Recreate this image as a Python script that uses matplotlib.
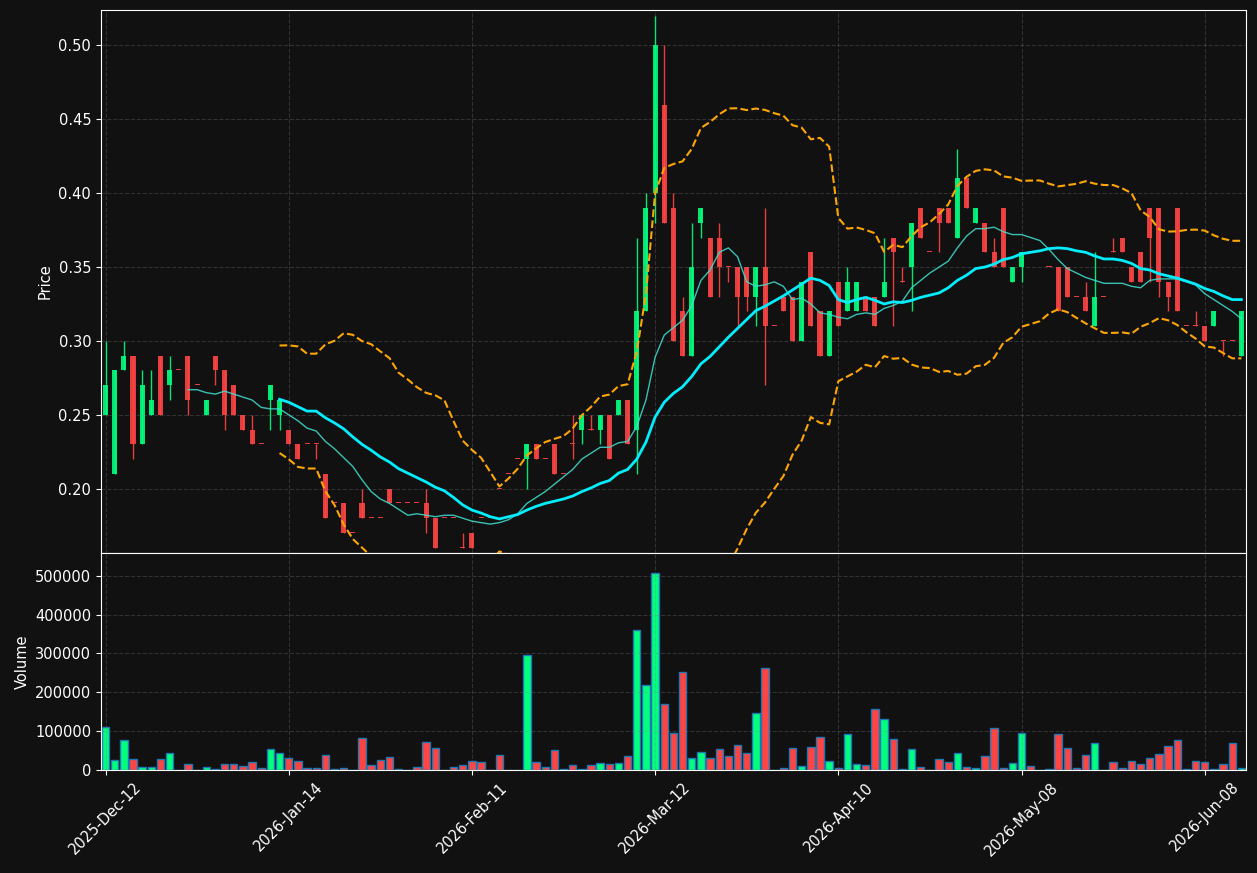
import numpy as np
import pandas as pd
import matplotlib
matplotlib.use("Agg")
import matplotlib.pyplot as plt

# OHLC + volume, one value per bar
opens = [0.25, 0.21, 0.28, 0.29, 0.23, 0.25, 0.29, 0.27, 0.28, 0.29,
         0.27, 0.25, 0.29, 0.28, 0.27, 0.25, 0.24, 0.23, 0.26, 0.25,
         0.24, 0.23, 0.23, 0.23, 0.21, 0.19, 0.19, 0.17, 0.19, 0.18,
         0.18, 0.20, 0.19, 0.19, 0.19, 0.19, 0.18, 0.18, 0.18, 0.16,
         0.17, 0.18, 0.18, 0.20, 0.21, 0.22, 0.22, 0.23, 0.22, 0.23,
         0.21, 0.23, 0.24, 0.24, 0.24, 0.25, 0.25, 0.26, 0.24, 0.32,
         0.40, 0.46, 0.39, 0.32, 0.29, 0.38, 0.37, 0.37, 0.35, 0.35,
         0.35, 0.33, 0.35, 0.31, 0.33, 0.33, 0.30, 0.36, 0.32, 0.29,
         0.34, 0.32, 0.32, 0.33, 0.33, 0.33, 0.37, 0.34, 0.35, 0.39,
         0.36, 0.39, 0.39, 0.37, 0.41, 0.38, 0.38, 0.36, 0.39, 0.34,
         0.35, 0.36, 0.36, 0.35, 0.35, 0.35, 0.33, 0.33, 0.31, 0.33,
         0.36, 0.37, 0.35, 0.36, 0.39, 0.39, 0.34, 0.39, 0.31, 0.31,
         0.31, 0.31, 0.30, 0.30, 0.29]
highs = [0.30, 0.28, 0.30, 0.29, 0.28, 0.28, 0.29, 0.29, 0.28, 0.29,
         0.27, 0.26, 0.29, 0.28, 0.27, 0.25, 0.25, 0.23, 0.27, 0.26,
         0.24, 0.23, 0.23, 0.23, 0.21, 0.19, 0.19, 0.17, 0.20, 0.18,
         0.18, 0.20, 0.19, 0.19, 0.19, 0.20, 0.18, 0.18, 0.18, 0.17,
         0.17, 0.18, 0.18, 0.20, 0.21, 0.22, 0.23, 0.23, 0.22, 0.23,
         0.21, 0.25, 0.25, 0.25, 0.25, 0.25, 0.26, 0.26, 0.37, 0.40,
         0.52, 0.50, 0.40, 0.33, 0.38, 0.39, 0.37, 0.38, 0.35, 0.35,
         0.35, 0.35, 0.39, 0.31, 0.33, 0.33, 0.34, 0.36, 0.32, 0.32,
         0.34, 0.35, 0.34, 0.33, 0.33, 0.37, 0.37, 0.35, 0.38, 0.39,
         0.36, 0.39, 0.39, 0.43, 0.41, 0.39, 0.38, 0.37, 0.39, 0.35,
         0.36, 0.36, 0.36, 0.35, 0.35, 0.35, 0.33, 0.34, 0.36, 0.33,
         0.37, 0.37, 0.35, 0.36, 0.39, 0.39, 0.34, 0.39, 0.31, 0.32,
         0.31, 0.32, 0.30, 0.30, 0.32]
lows = [0.25, 0.21, 0.28, 0.22, 0.23, 0.25, 0.25, 0.26, 0.28, 0.25,
        0.27, 0.25, 0.27, 0.24, 0.25, 0.24, 0.23, 0.23, 0.24, 0.24,
        0.23, 0.22, 0.23, 0.22, 0.18, 0.19, 0.17, 0.17, 0.18, 0.18,
        0.18, 0.19, 0.19, 0.19, 0.19, 0.17, 0.16, 0.18, 0.18, 0.16,
        0.16, 0.18, 0.18, 0.20, 0.21, 0.22, 0.20, 0.22, 0.22, 0.21,
        0.21, 0.22, 0.23, 0.24, 0.23, 0.22, 0.25, 0.23, 0.21, 0.32,
        0.38, 0.38, 0.30, 0.29, 0.29, 0.37, 0.33, 0.33, 0.34, 0.31,
        0.32, 0.31, 0.27, 0.31, 0.32, 0.30, 0.30, 0.31, 0.29, 0.29,
        0.31, 0.32, 0.32, 0.32, 0.31, 0.33, 0.31, 0.34, 0.32, 0.37,
        0.36, 0.36, 0.38, 0.37, 0.39, 0.38, 0.36, 0.35, 0.35, 0.34,
        0.34, 0.36, 0.36, 0.35, 0.32, 0.33, 0.33, 0.32, 0.31, 0.33,
        0.36, 0.36, 0.34, 0.34, 0.34, 0.33, 0.32, 0.32, 0.31, 0.31,
        0.30, 0.31, 0.29, 0.30, 0.29]
closes = [0.27, 0.28, 0.29, 0.23, 0.27, 0.26, 0.25, 0.28, 0.28, 0.26,
          0.27, 0.26, 0.28, 0.25, 0.25, 0.24, 0.23, 0.23, 0.27, 0.26,
          0.23, 0.22, 0.23, 0.23, 0.18, 0.19, 0.17, 0.17, 0.18, 0.18,
          0.18, 0.19, 0.19, 0.19, 0.19, 0.18, 0.16, 0.18, 0.18, 0.16,
          0.16, 0.18, 0.18, 0.20, 0.21, 0.22, 0.23, 0.22, 0.22, 0.21,
          0.21, 0.23, 0.25, 0.24, 0.25, 0.22, 0.26, 0.23, 0.32, 0.39,
          0.50, 0.38, 0.30, 0.29, 0.35, 0.39, 0.33, 0.35, 0.35, 0.33,
          0.33, 0.35, 0.31, 0.31, 0.32, 0.30, 0.34, 0.31, 0.29, 0.32,
          0.31, 0.34, 0.34, 0.32, 0.31, 0.34, 0.36, 0.34, 0.38, 0.37,
          0.36, 0.38, 0.38, 0.41, 0.39, 0.39, 0.36, 0.35, 0.35, 0.35,
          0.36, 0.36, 0.36, 0.35, 0.32, 0.33, 0.33, 0.32, 0.33, 0.33,
          0.36, 0.36, 0.34, 0.34, 0.37, 0.34, 0.33, 0.32, 0.31, 0.31,
          0.30, 0.32, 0.30, 0.30, 0.32]
volumes = [110000, 25000, 76600, 27500, 8600, 8600, 27500, 43000, 0, 14600,
           0, 6900, 2000, 14600, 14600, 9500, 19800, 4300, 53400, 43000,
           30000, 22400, 4300, 4300, 37900, 1700, 4300, 0, 81800, 12000,
           25000, 32700, 1700, 0, 6900, 71400, 56000, 0, 6900, 12000,
           22400, 19800, 0, 37900, 1000, 1000, 296900, 19800, 6900, 50800,
           1700, 12000, 1700, 12000, 17200, 14600, 17200, 35300, 360600, 218600,
           507700, 169500, 94700, 252200, 30100, 45600, 30100, 53400, 35300, 63700,
           43000, 146300, 262500, 0, 4300, 56000, 9500, 58500, 84300, 22400,
           4300, 92100, 14600, 12000, 156600, 130800, 79200, 1700, 53400, 6900,
           0, 27500, 19800, 43000, 6900, 4300, 35300, 107600, 4300, 17200,
           94700, 9500, 0, 1700, 92100, 56000, 4300, 37900, 68800, 0,
           19800, 4300, 22400, 14600, 30100, 40400, 61100, 76600, 1700, 22400,
           19800, 1700, 14600, 68800, 4300]

tick_labels = ["2025-Dec-12", "2026-Jan-14", "2026-Feb-11", "2026-Mar-12",
               "2026-Apr-10", "2026-May-08", "2026-Jun-08"]
tick_step = 20

bg = "#111111"
green = "#00ff7f"
red = "#ff4444"
plt.rcParams["font.size"] = 10.5

df = pd.DataFrame({"open": opens, "high": highs, "low": lows,
                   "close": closes, "volume": volumes})
n = len(df)
x = np.arange(n)

ma10 = df["close"].rolling(10).mean()
ma20 = df["close"].rolling(20).mean()
std20 = df["close"].rolling(20).std()
upper = ma20 + 2 * std20
lower = ma20 - 2 * std20

colors = np.where(df["close"] > df["open"], green, red)

fig = plt.figure(figsize=(12.57, 8.73), dpi=100, facecolor=bg)
gs = fig.add_gridspec(2, 1, height_ratios=[542.7, 217], hspace=0,
                      left=0.0803, right=0.9912, top=0.9885, bottom=0.118)
ax1 = fig.add_subplot(gs[0])
ax2 = fig.add_subplot(gs[1], sharex=ax1)

# candles
body_low = np.minimum(df["open"], df["close"])
body_h = np.maximum((df["close"] - df["open"]).abs(), 0.0007)
ax1.vlines(x, df["low"], df["high"], color=colors, linewidth=1, alpha=0.9)
ax1.bar(x, body_h, width=0.55, bottom=body_low, color=colors, linewidth=0, alpha=0.9)

# indicators
ax1.plot(x, ma10, color="#40e0d0", linewidth=1, alpha=0.85)
ax1.plot(x, ma20, color="#00eeff", linewidth=2)
ax1.plot(x, upper, color="orange", linestyle="--", linewidth=1.5)
ax1.plot(x, lower, color="orange", linestyle="--", linewidth=1.5)

ax1.set_ylim(0.1565, 0.524)
ax1.set_ylabel("Price", color="white")

# volume
ax2.bar(x, df["volume"], width=0.8, color=colors, edgecolor="#1f77b4", linewidth=1)
ax2.set_ylim(0, df["volume"].max() * 1.1)
ax2.set_ylabel("Volume", color="white")
ax2.ticklabel_format(axis="y", style="plain")

ax2.set_xlim(-0.5, n - 0.5)
ax2.set_xticks(np.arange(0, n, tick_step))
ax2.set_xticklabels(tick_labels, rotation=45)
plt.setp(ax1.get_xticklabels(), visible=False)

for ax in (ax1, ax2):
    ax.set_facecolor(bg)
    ax.grid(True, linestyle="--", color="gray", alpha=0.3)
    ax.tick_params(colors="white")
    for sp in ax.spines.values():
        sp.set_color("white")

fig.savefig("out.png", dpi=100, facecolor=bg)
